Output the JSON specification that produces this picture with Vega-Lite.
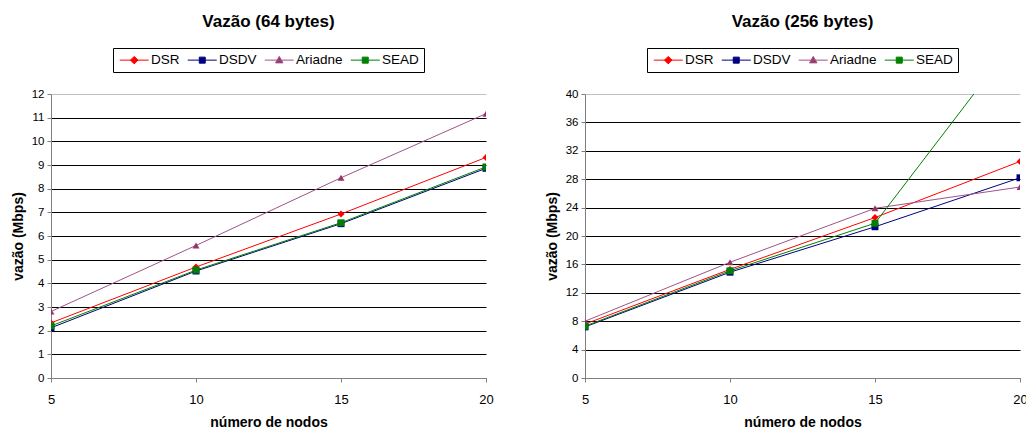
{
  "$schema": "https://vega.github.io/schema/vega-lite/v6.json",
  "background": "white",
  "padding": {"left": 11, "top": 12, "right": 0, "bottom": 0},
  "config": {
    "font": "Liberation Sans",
    "view": {"stroke": null},
    "title": {"font": "Liberation Sans", "fontSize": 17, "fontWeight": "bold", "color": "#000000", "anchor": "middle", "offset": 17},
    "axis": {"domainColor": "#808080", "tickColor": "#808080", "tickSize": 4, "labelFont": "Liberation Sans", "labelColor": "#000000", "titleFont": "Liberation Sans", "titleFontWeight": "bold", "titleFontSize": 14, "titleColor": "#000000"},
    "axisX": {"grid": false, "labelFontSize": 13, "labelPadding": 11, "titlePadding": 9, "labelFlush": false},
    "axisY": {"gridWidth": 1, "labelFontSize": 11.5, "labelPadding": 3, "titlePadding": 6},
    "legend": {"orient": "top", "direction": "horizontal", "strokeColor": "#000000", "padding": 5, "offset": 22, "labelFont": "Liberation Sans", "labelFontSize": 13.5, "labelColor": "#000000", "symbolSize": 100, "symbolOffset": 9.5, "labelOffset": 10, "columnPadding": 5, "symbolStrokeWidth": 1, "symbolOpacity": 1, "layout": {"top": {"anchor": "middle"}}}
  },
  "datasets": {
    "d64": [
      {"serie": "DSR", "nodos": 5, "vazao": 2.33},
      {"serie": "DSR", "nodos": 10, "vazao": 4.69},
      {"serie": "DSR", "nodos": 15, "vazao": 6.93},
      {"serie": "DSR", "nodos": 20, "vazao": 9.32},
      {"serie": "DSDV", "nodos": 5, "vazao": 2.12},
      {"serie": "DSDV", "nodos": 10, "vazao": 4.52},
      {"serie": "DSDV", "nodos": 15, "vazao": 6.52},
      {"serie": "DSDV", "nodos": 20, "vazao": 8.86},
      {"serie": "Ariadne", "nodos": 5, "vazao": 2.81},
      {"serie": "Ariadne", "nodos": 10, "vazao": 5.6},
      {"serie": "Ariadne", "nodos": 15, "vazao": 8.46},
      {"serie": "Ariadne", "nodos": 20, "vazao": 11.17},
      {"serie": "SEAD", "nodos": 5, "vazao": 2.2},
      {"serie": "SEAD", "nodos": 10, "vazao": 4.56},
      {"serie": "SEAD", "nodos": 15, "vazao": 6.56},
      {"serie": "SEAD", "nodos": 20, "vazao": 8.92}
    ],
    "d256": [
      {"serie": "DSR", "nodos": 5, "vazao": 7.6},
      {"serie": "DSR", "nodos": 10, "vazao": 15.3},
      {"serie": "DSR", "nodos": 15, "vazao": 22.6},
      {"serie": "DSR", "nodos": 20, "vazao": 30.5},
      {"serie": "DSDV", "nodos": 5, "vazao": 7.2},
      {"serie": "DSDV", "nodos": 10, "vazao": 14.9},
      {"serie": "DSDV", "nodos": 15, "vazao": 21.3},
      {"serie": "DSDV", "nodos": 20, "vazao": 28.2},
      {"serie": "Ariadne", "nodos": 5, "vazao": 8.0},
      {"serie": "Ariadne", "nodos": 10, "vazao": 16.3},
      {"serie": "Ariadne", "nodos": 15, "vazao": 23.9},
      {"serie": "Ariadne", "nodos": 20, "vazao": 26.9},
      {"serie": "SEAD", "nodos": 5, "vazao": 7.3},
      {"serie": "SEAD", "nodos": 10, "vazao": 15.1},
      {"serie": "SEAD", "nodos": 15, "vazao": 21.8},
      {"serie": "SEAD", "nodos": 20, "vazao": 48.5}
    ]
  },
  "bounds": "flush",
  "spacing": 99,
  "resolve": {"scale": {"y": "independent", "x": "independent", "fill": "independent", "stroke": "independent", "shape": "independent"}, "legend": {"fill": "independent", "stroke": "independent", "shape": "independent"}},
  "hconcat": [
    {
      "title": {"text": "Vazão (64 bytes)"},
      "width": 435,
      "height": 284,
      "data": {"name": "d64"},
      "encoding": {
        "x": {"field": "nodos", "type": "quantitative", "scale": {"domain": [5, 20]}, "axis": {"values": [5, 10, 15, 20], "title": "número de nodos"}},
        "y": {"field": "vazao", "type": "quantitative", "scale": {"domain": [0, 12]}, "axis": {"values": [0, 1, 2, 3, 4, 5, 6, 7, 8, 9, 10, 11, 12], "title": "vazão (Mbps)", "gridColor": {"condition": {"test": "datum.value >= 12", "value": "#c0c0c0"}, "value": "#000000"}}}
      },
      "layer": [
        {
          "mark": {"type": "line", "strokeWidth": 1, "clip": true},
          "encoding": {"stroke": {"field": "serie", "type": "nominal", "scale": {"domain": ["DSR", "DSDV", "Ariadne", "SEAD"], "range": ["#ff0000", "#000080", "#a0528a", "#008000"]}, "legend": null}}
        },
        {
          "mark": {"type": "point", "filled": true, "opacity": 1, "size": 48, "clip": true},
          "encoding": {
            "fill": {"field": "serie", "type": "nominal", "scale": {"domain": ["DSR", "DSDV", "Ariadne", "SEAD"], "range": ["#ff0000", "#000080", "#993366", "#008000"]}, "legend": null},
            "shape": {"field": "serie", "type": "nominal", "scale": {"domain": ["DSR", "DSDV", "Ariadne", "SEAD"], "range": ["diamond", "square", "triangle-up", "square"]}, "legend": null}
          }
        },
        {
          "mark": {"type": "point", "filled": true, "opacity": 0, "size": 100, "strokeWidth": 1, "clip": true},
          "encoding": {
            "fill": {"field": "serie", "type": "nominal", "scale": {"domain": ["DSR", "DSDV", "Ariadne", "SEAD"], "range": ["#ff0000", "#000080", "#993366", "#008000"]}, "legend": {"title": null}},
            "stroke": {"field": "serie", "type": "nominal", "scale": {"domain": ["DSR", "DSDV", "Ariadne", "SEAD"], "range": ["#ff0000", "#000080", "#a0528a", "#008000"]}, "legend": {"title": null}},
            "shape": {"field": "serie", "type": "nominal", "scale": {"domain": ["DSR", "DSDV", "Ariadne", "SEAD"], "range": ["M-2.9,0H2.9M0,-0.75L0.75,0L0,0.75L-0.75,0Z", "M-2.9,0H2.9M-0.6,-0.6H0.6V0.6H-0.6Z", "M-2.9,0H2.9M0,-0.75L0.75,0.55H-0.75Z", "M-2.9,0H2.9M-0.6,-0.6H0.6V0.6H-0.6Z"]}, "legend": {"title": null}}
          }
        }
      ],
      "resolve": {"scale": {"fill": "independent", "stroke": "independent", "shape": "independent"}}
    },
    {
      "title": {"text": "Vazão (256 bytes)"},
      "width": 435,
      "height": 284,
      "data": {"name": "d256"},
      "encoding": {
        "x": {"field": "nodos", "type": "quantitative", "scale": {"domain": [5, 20]}, "axis": {"values": [5, 10, 15, 20], "title": "número de nodos"}},
        "y": {"field": "vazao", "type": "quantitative", "scale": {"domain": [0, 40]}, "axis": {"values": [0, 4, 8, 12, 16, 20, 24, 28, 32, 36, 40], "title": "vazão (Mbps)", "gridColor": {"condition": {"test": "datum.value >= 40", "value": "#c0c0c0"}, "value": "#000000"}}}
      },
      "layer": [
        {
          "mark": {"type": "line", "strokeWidth": 1, "clip": true},
          "encoding": {"stroke": {"field": "serie", "type": "nominal", "scale": {"domain": ["DSR", "DSDV", "Ariadne", "SEAD"], "range": ["#ff0000", "#000080", "#a0528a", "#008000"]}, "legend": null}}
        },
        {
          "mark": {"type": "point", "filled": true, "opacity": 1, "size": 48, "clip": true},
          "encoding": {
            "fill": {"field": "serie", "type": "nominal", "scale": {"domain": ["DSR", "DSDV", "Ariadne", "SEAD"], "range": ["#ff0000", "#000080", "#993366", "#008000"]}, "legend": null},
            "shape": {"field": "serie", "type": "nominal", "scale": {"domain": ["DSR", "DSDV", "Ariadne", "SEAD"], "range": ["diamond", "square", "triangle-up", "square"]}, "legend": null}
          }
        },
        {
          "mark": {"type": "point", "filled": true, "opacity": 0, "size": 100, "strokeWidth": 1, "clip": true},
          "encoding": {
            "fill": {"field": "serie", "type": "nominal", "scale": {"domain": ["DSR", "DSDV", "Ariadne", "SEAD"], "range": ["#ff0000", "#000080", "#993366", "#008000"]}, "legend": {"title": null}},
            "stroke": {"field": "serie", "type": "nominal", "scale": {"domain": ["DSR", "DSDV", "Ariadne", "SEAD"], "range": ["#ff0000", "#000080", "#a0528a", "#008000"]}, "legend": {"title": null}},
            "shape": {"field": "serie", "type": "nominal", "scale": {"domain": ["DSR", "DSDV", "Ariadne", "SEAD"], "range": ["M-2.9,0H2.9M0,-0.75L0.75,0L0,0.75L-0.75,0Z", "M-2.9,0H2.9M-0.6,-0.6H0.6V0.6H-0.6Z", "M-2.9,0H2.9M0,-0.75L0.75,0.55H-0.75Z", "M-2.9,0H2.9M-0.6,-0.6H0.6V0.6H-0.6Z"]}, "legend": {"title": null}}
          }
        }
      ],
      "resolve": {"scale": {"fill": "independent", "stroke": "independent", "shape": "independent"}}
    }
  ]
}
